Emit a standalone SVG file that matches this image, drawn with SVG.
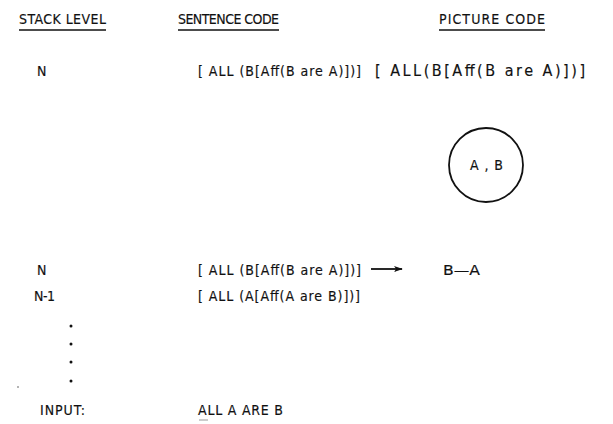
<svg xmlns="http://www.w3.org/2000/svg" width="613" height="424" viewBox="0 0 613 424">
  <style>
    text { font-family: "DejaVu Sans Condensed", "Liberation Sans", sans-serif; font-size: 14px; fill: #111; stroke: #111; stroke-width: 0.15; }
    .big { font-size: 16px; }
    .rule { stroke: #111; stroke-width: 1.3; }
    .line { stroke: #111; stroke-width: 1.8; fill: none; }
    .dot { fill: #111; }
  </style>
  <defs>
    <marker id="arrow" viewBox="0 0 10 10" refX="9" refY="5" markerWidth="9" markerHeight="9" orient="auto" markerUnits="userSpaceOnUse">
      <path d="M0,1.5 L10,5 L0,8.5 L2.5,5 Z" fill="#111"/>
    </marker>
  </defs>

  <!-- column headings -->
  <g id="headers">
    <text x="19" y="24" textLength="87" lengthAdjust="spacing">STACK LEVEL</text>
    <line class="rule" x1="19" y1="30" x2="106" y2="30"/>
    <text x="178" y="24" textLength="101" lengthAdjust="spacing">SENTENCE CODE</text>
    <line class="rule" x1="178" y1="30" x2="279" y2="30"/>
    <text x="439" y="24" textLength="106" lengthAdjust="spacing">PICTURE CODE</text>
    <line class="rule" x1="439" y1="30" x2="545" y2="30"/>
  </g>

  <g id="row-n-top">
    <text x="37" y="76">N</text>
    <text x="198" y="76" textLength="163" lengthAdjust="spacing">[ ALL (B[Aff(B are A)])]</text>
    <text class="big" x="375" y="76" textLength="210" lengthAdjust="spacing">[ ALL(B[Aff(B are A)])]</text>
  </g>

  <g id="picture-circle">
    <circle class="line" cx="486" cy="165" r="37"/>
    <text x="470" y="170" textLength="33" lengthAdjust="spacing">A , B</text>
  </g>

  <g id="row-n">
    <text x="37" y="275">N</text>
    <text x="198" y="275" textLength="163" lengthAdjust="spacing">[ ALL (B[Aff(B are A)])]</text>
    <text x="443" y="275" textLength="37" lengthAdjust="spacingAndGlyphs">B—A</text>
  </g>

  <g id="connectors">
    <line class="line" x1="371" y1="269" x2="402" y2="269" marker-end="url(#arrow)"/>
  </g>

  <g id="row-n-1">
    <text x="34" y="301" textLength="21" lengthAdjust="spacing">N-1</text>
    <text x="198" y="301" textLength="162" lengthAdjust="spacing">[ ALL (A[Aff(A are B)])]</text>
  </g>

  <g id="ellipsis">
    <circle class="dot" cx="71" cy="326" r="1.5"/>
    <circle class="dot" cx="71" cy="344" r="1.5"/>
    <circle class="dot" cx="71" cy="362" r="1.5"/>
    <circle class="dot" cx="71" cy="381" r="1.5"/>
    <circle cx="18" cy="387" r="0.8" fill="#555"/>
  </g>

  <g id="input">
    <text x="40" y="415" textLength="45" lengthAdjust="spacing">INPUT:</text>
    <text x="198" y="415" textLength="85" lengthAdjust="spacing">ALL A ARE B</text>
    <line x1="199" y1="420" x2="208" y2="420" stroke="#999" stroke-width="1"/>
  </g>
</svg>
